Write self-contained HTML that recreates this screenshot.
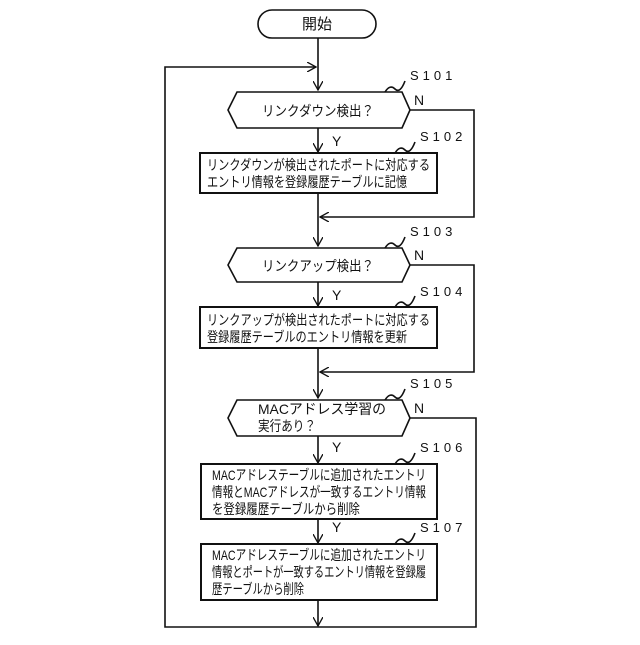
<!DOCTYPE html>
<html><head><meta charset="utf-8"><style>
body{margin:0;background:#fff}
svg text{font-family:"Liberation Sans","Noto Sans CJK JP",sans-serif;fill:#111}
</style></head><body>
<svg width="640" height="640" viewBox="0 0 640 640" xmlns="http://www.w3.org/2000/svg">
<defs><marker id="a" markerWidth="10" markerHeight="10" refX="9" refY="5" orient="auto" markerUnits="userSpaceOnUse"><path d="M0,0 L9,5 L0,10" fill="none" stroke="#111" stroke-width="1.3"/></marker></defs>
<g stroke="#111" stroke-width="1.6" fill="none">
<rect x="258" y="10" width="118" height="28" rx="14"/>
<line x1="318" y1="38" x2="318" y2="90" marker-end="url(#a)"/>
<polyline points="318,627 165,627 165,67 316,67" marker-end="url(#a)"/>
<polygon points="228,110 237,92 402,92 410,110 402,128 237,128"/>
<polyline points="410,110 474,110 474,217 320,217" marker-end="url(#a)"/>
<line x1="318" y1="128" x2="318" y2="152" marker-end="url(#a)"/>
<rect x="200" y="153" width="237" height="40" stroke-width="2"/>
<line x1="318" y1="193" x2="318" y2="246" marker-end="url(#a)"/>
<polygon points="228,265 237,248 402,248 410,265 402,282 237,282"/>
<polyline points="410,265 474,265 474,372 320,372" marker-end="url(#a)"/>
<line x1="318" y1="282" x2="318" y2="306" marker-end="url(#a)"/>
<rect x="200" y="307" width="237" height="41" stroke-width="2"/>
<line x1="318" y1="348" x2="318" y2="398" marker-end="url(#a)"/>
<polygon points="228,418 237,400 402,400 410,418 402,436 237,436"/>
<polyline points="410,418 476,418 476,627 318,627"/>
<line x1="318" y1="436" x2="318" y2="463" marker-end="url(#a)"/>
<rect x="201" y="464" width="236" height="55" stroke-width="2"/>
<line x1="318" y1="519" x2="318" y2="543" marker-end="url(#a)"/>
<rect x="201" y="544" width="236" height="56" stroke-width="2"/>
<line x1="318" y1="600" x2="318" y2="626" marker-end="url(#a)"/>
<path d="M385,92 q5,-8 10,-3 t10,-8"/>
<path d="M395,153 q5,-8 10,-3 t10,-8"/>
<path d="M385,248 q5,-8 10,-3 t10,-8"/>
<path d="M395,307 q5,-8 10,-3 t10,-8"/>
<path d="M385,400 q5,-8 10,-3 t10,-8"/>
<path d="M395,464 q5,-8 10,-3 t10,-8"/>
<path d="M395,544 q5,-8 10,-3 t10,-8"/>
</g>
<g font-size="14" lengthAdjust="spacingAndGlyphs">
<text x="317" y="29" text-anchor="middle" font-size="15">開始</text>
<text x="262" y="116" textLength="112" lengthAdjust="spacingAndGlyphs">リンクダウン検出？</text>
<text x="207" y="170" textLength="223" lengthAdjust="spacingAndGlyphs">リンクダウンが検出されたポートに対応する</text>
<text x="207" y="187" textLength="200" lengthAdjust="spacingAndGlyphs">エントリ情報を登録履歴テーブルに記憶</text>
<text x="262" y="271" textLength="112" lengthAdjust="spacingAndGlyphs">リンクアップ検出？</text>
<text x="207" y="325" textLength="223" lengthAdjust="spacingAndGlyphs">リンクアップが検出されたポートに対応する</text>
<text x="207" y="342" textLength="200" lengthAdjust="spacingAndGlyphs">登録履歴テーブルのエントリ情報を更新</text>
<text x="258" y="414" textLength="128" lengthAdjust="spacingAndGlyphs">MACアドレス学習の</text>
<text x="258" y="431" textLength="58" lengthAdjust="spacingAndGlyphs">実行あり？</text>
<text x="212" y="480" textLength="214" lengthAdjust="spacingAndGlyphs">MACアドレステーブルに追加されたエントリ</text>
<text x="212" y="497" textLength="214" lengthAdjust="spacingAndGlyphs">情報とMACアドレスが一致するエントリ情報</text>
<text x="212" y="514" textLength="148" lengthAdjust="spacingAndGlyphs">を登録履歴テーブルから削除</text>
<text x="212" y="560" textLength="214" lengthAdjust="spacingAndGlyphs">MACアドレステーブルに追加されたエントリ</text>
<text x="212" y="577" textLength="214" lengthAdjust="spacingAndGlyphs">情報とポートが一致するエントリ情報を登録履</text>
<text x="212" y="594" textLength="92" lengthAdjust="spacingAndGlyphs">歴テーブルから削除</text>
<g letter-spacing="4" font-size="13">
<text x="410" y="80">S101</text><text x="420" y="141">S102</text>
<text x="410" y="236">S103</text><text x="420" y="296">S104</text>
<text x="410" y="388">S105</text><text x="420" y="452">S106</text>
<text x="420" y="532">S107</text></g>
<text x="414" y="105">N</text><text x="414" y="260">N</text><text x="414" y="413">N</text>
<text x="332" y="146">Y</text><text x="332" y="300">Y</text><text x="332" y="452">Y</text><text x="332" y="532">Y</text>
</g>
</svg>
</body></html>
